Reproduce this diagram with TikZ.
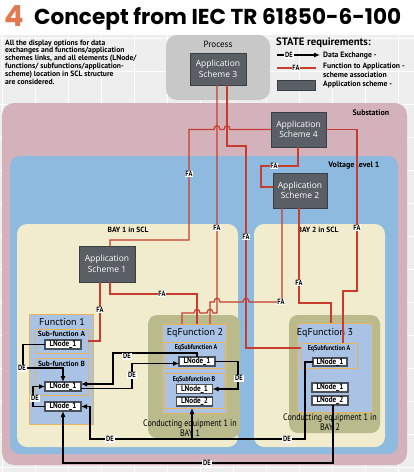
\documentclass[tikz,border=0pt]{standalone}
\usepackage{fontspec}
\setmainfont{PT Sans}
\newfontfamily\narrowf{PT Sans}[FakeStretch=0.86]
\newfontfamily\titlef{Poppins}
\newfontfamily\appf{Open Sans}
\usetikzlibrary{arrows.meta}
\definecolor{bggray}{HTML}{EEEEEE}
\definecolor{substc}{HTML}{D4B2BC}
\definecolor{vlc}{HTML}{8DBADE}
\definecolor{bayc}{HTML}{F0ECCD}
\definecolor{olivec}{HTML}{BABB8C}
\definecolor{funblue}{HTML}{AAC3E4}
\definecolor{orangeb}{HTML}{E8B45A}
\definecolor{appgray}{HTML}{5A5F66}
\definecolor{appborder}{HTML}{3A3F45}
\definecolor{procgray}{HTML}{C8C8C8}
\definecolor{redline}{HTML}{C83C2D}
\definecolor{lngray}{HTML}{4A5058}
\definecolor{titleorange}{HTML}{E07A50}
\tikzset{
  region/.style={rounded corners=10pt, inner sep=0pt, outer sep=0pt},
  appbox/.style={draw=appborder, fill=appgray, text=white, line width=0.8pt,
    font=\appf\fontsize{8.5}{10.5}\selectfont, align=center, inner sep=0pt, outer sep=0pt},
  lnbox/.style={draw=lngray, fill=white, line width=1.1pt, minimum width=36pt,
    minimum height=9pt, inner sep=0pt, outer sep=0pt, font=\narrowf\bfseries\fontsize{8.3}{8}\selectfont},
  funbox/.style={draw=orangeb, fill=funblue, line width=0.9pt, inner sep=0pt, outer sep=0pt},
  subbox/.style={draw=orangeb, line width=0.9pt, inner sep=0pt, outer sep=0pt},
  tag/.style={fill=white, font=\narrowf\bfseries\fontsize{7.5}{7.5}\selectfont, inner sep=0.8pt},
  faline/.style={draw=redline, line width=1.2pt},
  deline/.style={draw=black, line width=1.1pt, -{Latex[length=6pt,width=5pt]}},
  boxtitle/.style={font=\fontsize{10}{10}\selectfont, inner sep=0pt},
  subtitle/.style={font=\bfseries\fontsize{7.4}{7.4}\selectfont, inner sep=0pt},
  eqsubtitle/.style={font=\narrowf\bfseries\fontsize{7}{7}\selectfont, inner sep=0pt},
  regiontitle/.style={font=\bfseries\fontsize{7.5}{7.5}\selectfont, inner sep=0pt},
  celabel/.style={align=center, font=\narrowf\fontsize{9.4}{8}\selectfont, inner sep=0pt},
  legtext/.style={anchor=west, align=left, font=\bfseries\fontsize{7.7}{9}\selectfont, inner sep=0pt},
}
\begin{document}
\begin{tikzpicture}[x=1pt,y=-1pt]
\useasboundingbox (0,0) rectangle (414,472);
\fill[white] (0,0) rectangle (414,472);
% background grid
\fill[bggray] (0,35) rectangle (414,472);
\foreach \gx in {2,35,68,101,134,167,200,233,266,299,332,365,398}
  \draw[white, line width=1pt] (\gx,35) -- (\gx,472);
\foreach \gy in {38,71,104,137,170,203,236,269,302,335,368,401,434,467}
  \draw[white, line width=1pt] (0,\gy) -- (414,\gy);

% title
\node[anchor=west, font=\titlef\bfseries\fontsize{29}{29}\selectfont, text=titleorange, inner sep=0pt] (num) at (4,16) {4};
\node[anchor=west, font=\titlef\bfseries\fontsize{21.6}{21.6}\selectfont, inner sep=0pt] (title) at (34,19) {Concept from IEC TR 61850-6-100};

% description
\node[anchor=north west, align=left, inner sep=0pt, font=\bfseries\fontsize{7.6}{7.8}\selectfont] (desc) at (5,39.5)
 {All the display options for data\\exchanges and functions/application\\schemes links, and all elements (LNode/\\functions/ subfunctions/application-\\scheme) location in SCL structure\\are considered.};

% legend
\node[anchor=west, font=\bfseries\fontsize{10.7}{10.7}\selectfont, inner sep=0pt] (legtitle) at (276,43) {STATE requirements:};
\coordinate (lg1a) at (277,55);
\coordinate (lg1b) at (320,55);
\draw[deline] (lg1a) -- (lg1b);
\node[tag] (lgde) at (289,55) {DE};
\node[legtext] (lgt1) at (323,56) {Data Exchange -};
\coordinate (lg2a) at (277,68);
\coordinate (lg2b) at (316,68);
\draw[faline] (lg2a) -- (lg2b);
\node[tag] (lgfa) at (296,68) {FA};
\node[legtext] (lgt2) at (323,70) {Function to Application -\\scheme association};
\node[draw=appborder, fill=appgray, line width=0.8pt, minimum width=38pt, minimum height=10pt, inner sep=0pt] (lgbox) at (296,85) {};
\node[legtext] (lgt3) at (323,85) {Application scheme -};

% regions
\node[region, fill=procgray, minimum width=104pt, minimum height=65pt, rounded corners=11pt] (process) at (218,67.5) {};
\node[font=\fontsize{9}{9}\selectfont, inner sep=0pt] (proclbl) at (218,44.5) {Process};
\node[region, fill=substc, minimum width=405pt, minimum height=362pt, rounded corners=12pt] (subst) at (204.5,284) {};
\node[regiontitle, font=\bfseries\fontsize{8}{8}\selectfont] (substlbl) at (371,113) {Substation};
\node[region, fill=vlc, minimum width=388pt, minimum height=298pt] (vl) at (204,305) {};
\node[regiontitle, font=\bfseries\fontsize{8}{8}\selectfont] (vllbl) at (354,165) {Voltage level 1};
\node[region, fill=bayc, minimum width=221pt, minimum height=223pt] (bay1) at (127.5,335.5) {};
\node[regiontitle] (bay1lbl) at (128,230) {BAY 1 in SCL};
\node[region, fill=bayc, minimum width=131pt, minimum height=223pt] (bay2) at (319.5,335.5) {};
\node[regiontitle] (bay2lbl) at (318,230) {BAY 2 in SCL};

% conducting equipment regions
\node[region, fill=olivec, minimum width=92pt, minimum height=123pt, rounded corners=9pt] (ce1) at (194,376.5) {};
\node[region, fill=olivec, minimum width=91pt, minimum height=118pt, rounded corners=9pt] (ce2) at (334.5,374) {};

% Function 1
\node[funbox, minimum width=64pt, minimum height=110pt] (f1) at (61,369) {};
\node[boxtitle] (f1lbl) at (62,322) {Function 1};
\node[subbox, minimum width=53pt, minimum height=24pt] (subA1) at (61.5,341) {};
\node[subtitle] (subA1lbl) at (61.5,334) {Sub-function A};
\node[subbox, minimum width=53pt, minimum height=37pt] (subB1) at (61.5,376.5) {};
\node[subtitle] (subB1lbl) at (61.5,363.5) {Sub-function B};
\node[lnbox] (lnA) at (63,344.5) {LNode\_1};
\node[lnbox] (lnB) at (63,386.5) {LNode\_1};
\node[lnbox] (lnC) at (63,406.5) {LNode\_1};

% EqFunction 2
\node[funbox, minimum width=64pt, minimum height=89pt] (eqf2) at (194,368.5) {};
\node[boxtitle] (eqf2lbl) at (195,333) {EqFunction 2};
\node[subbox, minimum width=60pt, minimum height=26pt] (eqsubA2) at (194,355) {};
\node[eqsubtitle] (eqsubA2lbl) at (196,347.5) {EqSubfunction A};
\node[subbox, minimum width=60pt, minimum height=35pt] (eqsubB2) at (194,390.5) {};
\node[eqsubtitle] (eqsubB2lbl) at (194,380) {EqSubfunction B};
\node[lnbox] (lnE2A) at (197,361.5) {LNode\_1};
\node[lnbox] (lnE2B1) at (194.5,389) {LNode\_1};
\node[lnbox] (lnE2B2) at (194.5,401.5) {LNode\_2};
\node[celabel] (ce1lbl) at (190,428.5) {Conducting equipment 1 in\\BAY 1};

% EqFunction 3
\node[funbox, minimum width=75pt, minimum height=89pt] (eqf3) at (334.5,367.5) {};
\node[boxtitle] (eqf3lbl) at (325,333) {EqFunction 3};
\node[subbox, minimum width=56pt, minimum height=25pt] (eqsubA3) at (329,355.5) {};
\node[eqsubtitle] (eqsubA3lbl) at (329,349) {EqSubfunction A};
\node[lnbox, minimum width=34pt, minimum height=8pt] (lnE3A) at (330,362) {LNode\_1};
\node[lnbox] (lnE3B1) at (330,387.5) {LNode\_1};
\node[lnbox] (lnE3B2) at (330,400.5) {LNode\_2};
\node[celabel] (ce2lbl) at (330,422.5) {Conducting equipment 1 in\\BAY 2};

% application schemes
\node[appbox, minimum width=56pt, minimum height=32pt] (app3) at (218,69) {Application\\Scheme 3};
\node[appbox, minimum width=55pt, minimum height=35pt] (app4) at (298.5,129.5) {Application\\Scheme 4};
\node[appbox, minimum width=54pt, minimum height=35pt] (app2) at (300,190.5) {Application\\Scheme 2};
\node[appbox, minimum width=56pt, minimum height=36pt] (app1) at (107,264) {Application\\Scheme 1};

% FA links
\draw[faline] ([xshift=-1pt]app3.south) -- (217,313) -- (213,313) .. controls (213,308) and (207,308) .. (207,313)
  -- (200,313) .. controls (200,308) and (194,308) .. (194,313) -- (182,313) -- ([xshift=-12pt]eqf2.north);
\draw[faline] ([xshift=9pt]app3.south) -- (227,146) -- (246,146) -- (246,348) -- ([yshift=7.5pt]eqsubA3.west);
\draw[faline] (app4.west) -- (230,129.5) .. controls (230,124.5) and (224,124.5) .. (224,129.5)
  -- (220,129.5) .. controls (220,124.5) and (214,124.5) .. (214,129.5) -- (189,129.5) -- (189,240) -- (110,240) -- ([xshift=3pt]app1.north);
\draw[faline] (app4.east) -- (357,129.5) -- (357,291) -- (343,291) -- ([xshift=14pt]eqsubA3.north);
\draw[faline] ([xshift=-0.5pt]app4.south) -- (298,166) -- (261,166) -- (261,187) -- ([yshift=3.5pt]app2.west);
\draw[faline] ([xshift=-18pt]app2.south) -- (282,302) -- (249,302) .. controls (249,297) and (243,297) .. (243,302)
  -- (220,302) .. controls (220,297) and (214,297) .. (214,302) -- (210,302) -- ([xshift=16pt]eqf2.north);
\draw[faline] ([xshift=-1pt]app2.south) -- (299,303) -- (331,303) -- ([xshift=-3.5pt]eqf3.north);
\draw[faline] ([xshift=-7pt]app1.south) -- (100,341) -- (subA1.east);
\draw[faline] ([xshift=3pt]app1.south) -- (110,294) -- (197,294) -- ([xshift=3pt]eqf2.north);

\node[tag] (fa1) at (189,174) {FA};
\node[tag] (fa2) at (217,228) {FA};
\node[tag] (fa3) at (246,237) {FA};
\node[tag] (fa4) at (357,228) {FA};
\node[tag] (fa5) at (274,166) {FA};
\node[tag] (fa6) at (299,283) {FA};
\node[tag] (fa7) at (281,302) {FA};
\node[tag] (fa8) at (100,310) {FA};
\node[tag] (fa9) at (162,294) {FA};

% DE links
\draw[deline] (lnA.west) -- (23,344.5) -- (23,368) -- (63,368) -- (lnB.north);
\draw[deline] (lnE2A.north) -- (197,353) -- (113,353) -- (113,384) -- ([yshift=2.5pt]lnB.east);
\draw[deline] ([yshift=-2pt]lnB.east) -- (132,388.5) -- (132,363.5) -- ([yshift=-2pt]lnE2A.west);
\draw[deline] (lnE2A.east) -- (238,361.5) -- (238,389) -- (lnE2B1.east);
\draw[deline] (lnC.west) -- (33,406.5) -- (33,386.5) -- (lnB.west);
\draw[deline] (lnE3A.west) -- (305,362) -- (305,439) -- (90,439) -- (90,406.5) -- (lnC.east);
\coordinate (br) at (192,439);
\draw[deline] (br) -- ([xshift=-2pt]eqsubB2.south);
\draw[deline] ([xshift=3pt]lnE3B2.south) -- (333,463) -- (63,463) -- (lnC.south);

\node[tag] (de1) at (22,368) {DE};
\node[tag] (de2) at (127,356) {DE};
\node[tag] (de3) at (132,375) {DE};
\node[tag] (de4) at (239,378) {DE};
\node[tag] (de5) at (35,398) {DE};
\node[tag] (de6) at (110,439) {DE};
\node[tag] (de7) at (287,439) {DE};
\node[tag] (de8) at (207,463) {DE};
\end{tikzpicture}
\end{document}
